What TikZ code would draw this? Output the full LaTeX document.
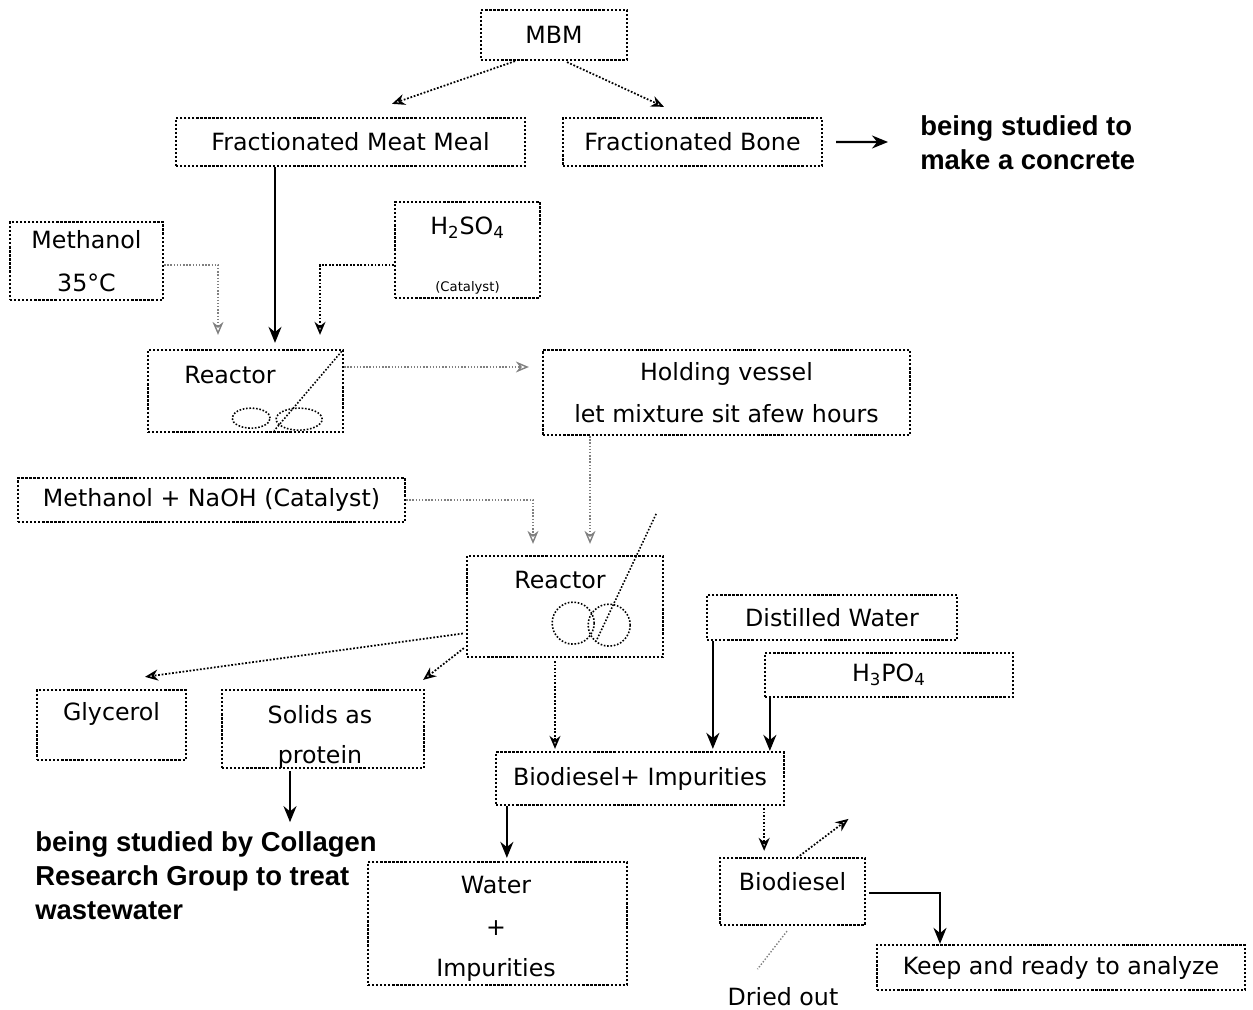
\documentclass[tikz,border=0pt]{standalone}
\usepackage{fontspec}
\setmainfont{DejaVu Sans}
\newfontfamily\notefont{Liberation Sans}
\usetikzlibrary{arrows.meta,calc}
\begin{document}
\begin{tikzpicture}[
  box/.style={draw, densely dotted, line width=1.3pt, inner sep=2pt, font=\fontsize{13.5}{16}\selectfont},
  txt/.style={inner sep=0pt, font=\fontsize{13.5}{16}\selectfont},
  note/.style={inner sep=0pt, align=left, font=\notefont\bfseries\fontsize{15.6}{19.3}\selectfont},
  dk/.style={densely dotted, line width=1pt, -{Stealth[open,length=2.6mm,width=2.2mm]}},
  lt/.style={densely dotted, line width=0.8pt, gray, -{Stealth[open,length=2.6mm,width=2.2mm]}},
  sol/.style={line width=1.2pt, -{Stealth[length=3.2mm,width=2.6mm]}},
]
\useasboundingbox (0,0) rectangle (25.06,-20.18);
% boxes
\node[box, minimum width=2.92cm, minimum height=1.0cm] (MBM) at (11.08,-0.70) {MBM};
\node[box, minimum width=6.98cm, minimum height=0.96cm] (FMM) at (7.01,-2.84) {Fractionated Meat Meal};
\node[box, minimum width=5.18cm, minimum height=0.96cm] (FB) at (13.85,-2.84) {Fractionated Bone};
\node[note, anchor=west] (N1) at (18.40,-2.86) {being studied to\\make a concrete};
\node[box, minimum width=3.06cm, minimum height=1.56cm, align=center] (ME) at (1.73,-5.22) {Methanol\\[0.3cm]35°C};
\node[box, minimum width=2.90cm, minimum height=1.92cm] (HS) at (9.35,-5.00) {};
\node[txt] (HSt) at (9.35,-4.55) {H\textsubscript{2}SO\textsubscript{4}};
\node[txt, font=\fontsize{7.5}{9}\selectfont] (HSc) at (9.35,-5.76) {(Catalyst)};
\node[box, minimum width=3.90cm, minimum height=1.64cm] (R1) at (4.91,-7.82) {};
\node[txt] (R1t) at (4.60,-7.50) {Reactor};
\node[box, minimum width=7.34cm, minimum height=1.70cm, align=center] (HV) at (14.53,-7.85) {Holding vessel\\[0.28cm]let mixture sit afew hours};
\node[box, minimum width=7.74cm, minimum height=0.88cm] (MN) at (4.23,-10.00) {Methanol + NaOH (Catalyst)};
\node[box, minimum width=3.92cm, minimum height=2.02cm] (R2) at (11.30,-12.13) {};
\node[txt] (R2t) at (11.20,-11.60) {Reactor};
\node[box, minimum width=5.00cm, minimum height=0.90cm] (DW) at (16.64,-12.35) {Distilled Water};
\node[box, minimum width=4.96cm, minimum height=0.88cm] (HP) at (17.78,-13.50) {H\textsubscript{3}PO\textsubscript{4}};
\node[box, minimum width=2.98cm, minimum height=1.40cm] (GL) at (2.23,-14.50) {};
\node[txt] (GLt) at (2.23,-14.27) {Glycerol};
\node[box, minimum width=4.04cm, minimum height=1.56cm, align=center] (SO) at (6.46,-14.58) {};
\node[txt] (SOt1) at (6.40,-14.30) {Solids as};
\node[txt] (SOt2) at (6.40,-15.14) {protein};
\node[note, anchor=north west] (N2) at (0.70,-16.62) {being studied by Collagen\\Research Group to treat\\wastewater};
\node[box, minimum width=5.76cm, minimum height=1.06cm] (BI) at (12.80,-15.57) {Biodiesel+ Impurities};
\node[box, minimum width=5.18cm, minimum height=2.46cm] (WA) at (9.95,-18.47) {};
\node[txt] (WAt1) at (9.92,-17.70) {Water};
\node[txt] (WAt2) at (9.92,-18.56) {+};
\node[txt] (WAt3) at (9.92,-19.40) {Impurities};
\node[box, minimum width=2.90cm, minimum height=1.34cm] (BD) at (15.85,-17.83) {};
\node[txt] (BDt) at (15.85,-17.64) {Biodiesel};
\node[box, minimum width=7.36cm, minimum height=0.90cm] (KP) at (21.22,-19.35) {Keep and ready to analyze};
\node[txt] (DO) at (15.66,-19.94) {Dried out};
% stirrers
\draw[densely dotted, line width=0.9pt] ($(R1.north east)+(-0.05,-0.05)$) -- ($(R1.south east)+(-1.40,0.05)$);
\draw[densely dotted, line width=0.9pt] ($(R1.south east)+(-1.86,0.30)$) ellipse (0.38cm and 0.20cm);
\draw[densely dotted, line width=0.9pt] ($(R1.south east)+(-0.90,0.28)$) ellipse (0.46cm and 0.22cm);
\draw[densely dotted, line width=0.9pt] ($(R2.north east)+(-0.16,0.82)$) -- ($(R2.south east)+(-1.36,0.34)$);
\draw[densely dotted, line width=0.9pt] ($(R2.south east)+(-1.82,0.70)$) circle (0.42cm);
\draw[densely dotted, line width=0.9pt] ($(R2.south east)+(-1.10,0.66)$) circle (0.42cm);
% connector anchor points
\coordinate (dwS) at ($(DW.south west)+(0.14,0)$);
\coordinate (hpS) at ($(HP.south west)+(0.12,0)$);
\coordinate (soS) at ($(SO.south)+(-0.66,-0.04)$);
\coordinate (soE) at ($(SO.south)+(-0.66,-1.06)$);
\coordinate (biW) at ($(BI.south west)+(0.24,0)$);
\coordinate (biE) at ($(BI.south east)+(-0.42,-0.04)$);
\coordinate (fmS) at ($(FMM.south)+(-1.51,0)$);
\coordinate (hvS) at ($(HV.south)+(-2.73,0)$);
\coordinate (r2S) at ($(R2.south)+(-0.20,-0.06)$);
\coordinate (r1E) at ($(R1.east)+(0,0.48)$);
% connectors
\draw[dk] ($(MBM.south)+(-0.78,0)$) -- ($(FMM.north)+(0.83,0.26)$);
\draw[dk] ($(MBM.south)+(0.26,-0.02)$) -- ($(FB.north)+(-0.57,0.2)$);
\draw[sol] ($(FB.east)+(0.26,0)$) -- ($(N1.west)+(-0.64,0.02)$);
\draw[sol] (fmS) -- ($(fmS |- R1.north)+(0,0.12)$);
\draw[lt] ($(ME.east)+(0,-0.08)$) -| ($(R1.north)+(-0.55,0.28)$);
\draw[dk] ($(HS.west)+(0,-0.30)$) -| ($(R1.north)+(1.49,0.28)$);
\draw[lt] (r1E) -- ($(r1E -| HV.west)+(-0.26,0)$);
\draw[lt] (hvS) -- ($(hvS |- R2.north)+(0,0.22)$);
\draw[lt] (MN.east) -| ($(R2.north)+(-0.64,0.22)$);
\draw[dk] ($(R2.west)+(-0.06,-0.54)$) -- ($(GL.north)+(0.67,0.24)$);
\draw[dk] ($(R2.south west)+(-0.04,0.2)$) -- ($(SO.north east)+(-0.04,0.18)$);
\draw[dk] (r2S) -- ($(r2S |- BI.north)+(0,0.04)$);
\draw[sol] (dwS) -- ($(dwS |- BI.north)+(0,0.04)$);
\draw[sol] (hpS) -- (hpS |- BI.north);
\draw[sol] (soS) -- (soE);
\draw[sol] (biW) -- ($(biW |- WA.north)+(0,0.06)$);
\draw[dk] (biE) -- ($(biE |- BD.north)+(0,0.12)$);
\draw[sol] ($(BD.east)+(0.06,-0.03)$) -| ($(KP.north)+(-2.42,0)$);
\coordinate (up) at ($(BD.north)+(1.12,0.76)$);
\draw[dk] ($(BD.north)+(0.09,-0.02)$) -- (up);
\coordinate (dn) at ($(BD.south)+(-0.70,-0.86)$);
\draw[densely dotted, line width=0.8pt, gray] ($(BD.south)+(-0.11,-0.10)$) -- (dn);
\end{tikzpicture}
\end{document}
